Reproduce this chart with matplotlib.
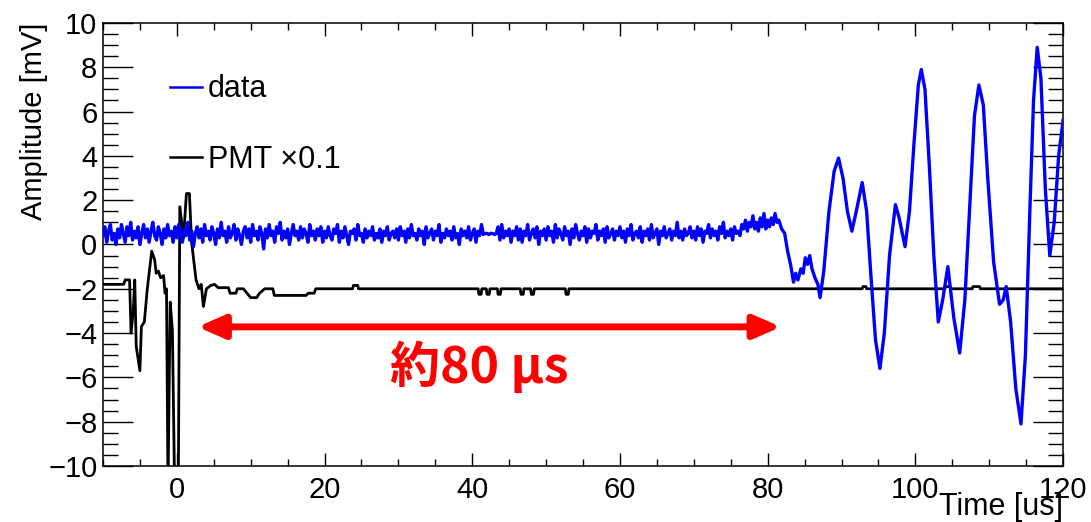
import numpy as np
import matplotlib.pyplot as plt
from matplotlib.ticker import MultipleLocator

plt.rcParams['font.family'] = ['Liberation Sans', 'DejaVu Sans']

# blue "data" trace: noisy baseline sampled every 0.25 us from -10 us
noise_t0 = -10.0
noise_dt = 0.25
noise_v = [
    # -10 .. -0.25
    0.4, 0.8, 0.1, 0.6, 0.9, 0.2, 0.5, 0.0, 0.7, 0.3, 0.9, 0.5, 0.1, 0.8, 0.4, 1.0, 0.2, 0.6, 0.3, 0.8,
    0.0, 0.5, 0.9, 0.3, 0.7, 0.1, 0.6, 1.0, 0.4, 0.2, 0.8, 0.5, 0.0, 0.7, 0.3, 0.9, 0.4, 0.6, 0.1, 0.8,
    # 0 .. 9.75
    0.3, 0.9, 0.5, 0.1, 0.7, 0.4, 1.0, 0.2, 0.6, -0.1, 0.5, 0.8, 0.3, 0.7, 0.1, 0.9, 0.4, 0.6, 0.2, 0.8,
    0.5, 0.0, 0.7, 0.3, 1.0, 0.4, 0.6, 0.1, 0.8, 0.3, 0.5, 0.9, 0.2, 0.7, 0.4, 0.0, 0.6, 0.8, 0.3, 0.7,
    # 10 .. 19.75
    0.1, 0.9, 0.4, 0.6, 0.2, 0.8, 0.5, -0.2, 0.7, 0.3, 0.9, 0.4, 0.6, 0.1, 0.8, 0.5, 1.0, 0.2, 0.6, 0.3,
    0.7, 0.0, 0.5, 0.9, 0.4, 0.6, 0.2, 0.8, 0.3, 0.7, 0.5, 0.1, 0.9, 0.4, 0.6, 0.2, 0.7, 0.4, 0.8, 0.1,
    # 20 .. 29.75
    0.6, 0.3, 0.8, 0.4, 0.2, 0.7, 0.5, 0.9, 0.1, 0.6, 0.3, 0.8, 0.4, 0.0, 0.6, 0.5, 0.7, 0.2, 0.9, 0.4,
    0.5, 0.1, 0.7, 0.3, 0.6, 0.4, 0.8, 0.2, 0.5, 0.3, 0.7, 0.1, 0.6, 0.4, 0.8, 0.2, 0.5, 0.6, 0.3, 0.7,
    # 30 .. 39.75
    0.2, 0.8, 0.4, 0.6, 0.1, 0.7, 0.3, 0.9, 0.4, 0.5, 0.2, 0.7, 0.4, 0.6, 0.0, 0.8, 0.3, 0.5, 0.7, 0.2,
    0.6, 0.4, 0.9, 0.1, 0.5, 0.3, 0.7, 0.4, 0.6, 0.2, 0.8, 0.3, 0.5, 0.0, 0.7, 0.4, 0.6, 0.3, 0.8, 0.2,
    # 40 .. 49.75
    0.5, 0.7, 0.1, 0.6, 0.4, 0.9, 0.45, 0.5, 0.5, 0.45, 0.5, 0.5, 0.45, 0.5, 0.8, 0.2, 0.9, 0.3, 0.6, 0.4,
    0.7, 0.1, 0.6, 0.4, 0.8, 0.2, 0.7, 0.1, 0.6, 0.4, 0.9, 0.2, 0.5, 0.7, 0.3, 0.8, 0.0, 0.6, 0.4, 0.7,
    # 50 .. 59.75
    0.2, 0.8, 0.4, 0.6, 0.1, 0.9, 0.3, 0.7, 0.5, 0.2, 0.8, 0.4, 0.6, 0.0, 0.7, 0.3, 0.9, 0.5, 0.2, 0.6,
    0.4, 0.8, 0.1, 0.7, 0.3, 0.6, 0.5, 0.9, 0.2, 0.6, 0.4, 0.7, 0.1, 0.8, 0.3, 0.5, 0.7, 0.2, 0.6, 0.4,
    # 60 .. 69.75
    0.8, 0.3, 0.6, 0.1, 0.7, 0.4, 0.9, 0.2, 0.5, 0.6, 0.3, 0.8, 0.1, 0.6, 0.4, 0.7, 0.2, 0.9, 0.3, 0.5,
    0.7, 0.0, 0.6, 0.4, 0.8, 0.3, 0.5, 0.7, 0.2, 0.6, 0.4, 1.0, 0.3, 0.6, 0.2, 0.7, 0.4, 0.5, 0.8, 0.3,
    # 70 .. 79.75
    0.6, 0.2, 0.8, 0.4, 0.7, 0.1, 0.6, 0.5, 0.9, 0.3, 0.7, 0.4, 0.6, 0.2, 0.8, 0.5, 1.0, 0.3, 0.6, 0.4,
    0.7, 0.2, 0.8, 0.5, 0.6, 0.4, 0.9, 0.7, 1.1, 0.6, 1.0, 0.8, 1.3, 0.7, 1.0, 0.6, 1.2, 0.8, 1.4, 0.7,
    # 80 .. 81.25
    1.1, 0.8, 1.2, 0.9, 1.4, 1.0,
]

# blue trace after the wave arrives
wave_t = [81.5, 81.9, 82.3, 82.7, 83.1, 83.5, 83.8, 84.1, 84.5, 84.8, 85.1, 85.4, 85.7, 86.0,
          86.4, 86.8, 87.1, 87.6, 88.3, 89.0, 89.6,
          90.2, 90.8, 91.4, 92.0, 92.8, 93.4, 94.0, 94.6, 95.2, 95.8, 96.5, 97.3, 97.8, 98.6,
          99.2, 99.8, 100.4, 100.8, 101.3, 101.9, 102.5, 103.1, 103.7, 104.4, 105.2, 106.0,
          106.7, 107.4, 108.0, 108.6, 109.2, 109.8, 110.6, 111.4, 111.9, 112.3, 112.9, 113.6,
          114.3, 114.9, 115.5, 116.0, 116.5, 117.0, 117.6, 118.2, 118.8, 119.4, 120.0]
wave_v = [1.1, 0.7, 0.5, -0.3, -0.9, -1.7, -1.3, -1.6, -1.1, -1.3, -0.6, -0.9, -0.5, -1.1,
          -1.5, -1.8, -2.4, -1.2, 1.5, 3.3, 3.9,
          3.0, 1.5, 0.6, 1.5, 2.8, 1.5, -1.5, -4.3, -5.6, -4.0, -0.5, 1.8, 1.2, -0.1,
          1.5, 4.5, 7.2, 7.9, 7.0, 3.5, -0.5, -3.5, -2.5, -1.0, -3.3, -4.9,
          -2.5, 2.0, 5.8, 7.2, 6.3, 3.0, -0.8, -2.7, -2.5, -1.9, -3.5, -6.5,
          -8.1, -5.0, 1.5, 6.5, 8.9, 7.5, 2.5, -0.5, 1.0, 4.0, 5.6]

# black PMT trace (scaled x0.1)
pmt_t = [-10, -7.2, -7.0, -6.4, -6.2, -5.9, -5.7, -5.5, -5.0, -4.8, -4.4, -4.0, -3.4, -3.0,
         -2.8, -2.5, -2.2, -1.8, -1.6, -1.4, -1.2, -0.9, -0.6, -0.3, 0.2, 0.4, 0.9, 1.3, 1.7,
         2.0, 2.6, 3.0, 3.3, 3.6, 4.0, 4.6, 5.1, 5.6, 7.0, 7.2, 8.0, 8.2, 9.0, 9.5, 10.0,
         10.8, 11.2, 11.9, 13.0, 13.2, 17.5, 17.8, 18.6, 18.8,
         23.8, 23.9, 24.5, 24.6, 40.8, 40.9, 41.2, 41.3, 41.9, 42.0, 42.3, 42.4, 43.4, 43.5,
         43.8, 43.9, 46.5, 46.6, 46.9, 47.0, 47.9, 48.0, 48.3, 48.4, 52.6, 52.7, 53.0, 53.1,
         92.8, 92.9, 93.3, 93.4, 104.0, 104.1, 104.7, 104.8, 107.7, 107.8, 108.7, 108.8, 120]
pmt_v = [-1.8, -1.8, -1.6, -1.6, -4.0, -3.0, -1.6, -4.6, -5.7, -3.7, -3.5, -2.0, -0.3, -0.7,
         -1.3, -1.2, -1.5, -1.4, -2.2, -2.0, -11, -2.6, -3.9, -11, -11, 1.7, 0.3, 2.3, 2.3,
         0.1, -1.6, -2.0, -1.8, -2.8, -2.0, -1.85, -1.8, -1.95, -1.95, -2.2, -2.2, -2.0, -2.0, -2.2, -2.4,
         -2.4, -2.2, -2.0, -2.0, -2.3, -2.3, -2.2, -2.2, -2.0,
         -2.0, -1.85, -1.85, -2.0, -2.0, -2.25, -2.25, -2.0, -2.0, -2.25, -2.25, -2.0, -2.0, -2.25,
         -2.25, -2.0, -2.0, -2.25, -2.25, -2.0, -2.0, -2.25, -2.25, -2.0, -2.0, -2.25, -2.25, -2.0,
         -2.0, -1.9, -1.9, -2.0, -2.0, -1.9, -1.9, -2.0, -2.0, -1.9, -1.9, -2.0, -2.0]

data_t = list(noise_t0 + noise_dt * np.arange(len(noise_v))) + wave_t
data_v = noise_v + wave_v

fig = plt.figure(figsize=(10.91, 5.22), dpi=100)
ax = fig.add_axes([0.0944, 0.1073, 0.880, 0.8487])

ax.plot(pmt_t, pmt_v, color='black', lw=2.0, label='PMT \u00d70.1', zorder=2)
ax.plot(data_t, data_v, color='blue', lw=2.4, label='data', zorder=3,
        solid_joinstyle='round')

ax.set_xlim(-10, 120)
ax.set_ylim(-10, 10)
ax.xaxis.set_major_locator(MultipleLocator(20))
ax.xaxis.set_minor_locator(MultipleLocator(5))
ax.yaxis.set_major_locator(MultipleLocator(2))
ax.yaxis.set_minor_locator(MultipleLocator(0.5))
ax.tick_params(axis='both', which='both', direction='in', width=1.0, labelsize=21)
ax.tick_params(axis='x', which='major', length=9.4, top=True, pad=7)
ax.tick_params(axis='x', which='minor', length=5, top=True)
ax.tick_params(axis='y', which='major', length=21.6, right=True, pad=4)
ax.tick_params(axis='y', which='minor', length=10.8, right=True)
for s in ax.spines.values():
    s.set_linewidth(1.1)

ax.text(-0.072, 1.0, 'Amplitude [mV]', rotation=90, ha='center', va='top',
        fontsize=21, transform=ax.transAxes)
ax.text(1.0, -0.11, 'Time [us]', ha='right', va='baseline', fontsize=22,
        transform=ax.transAxes)

h, l = ax.get_legend_handles_labels()
leg = ax.legend(h[::-1], l[::-1], loc='upper left', bbox_to_anchor=(0.0698, 0.884),
                frameon=False, fontsize=22, handlelength=1.05, handletextpad=0.2,
                labelspacing=1.32, borderpad=0, borderaxespad=0)
for ln in leg.get_lines():
    ln.set_linewidth(1.8)

ax.annotate('', xy=(81.8, -3.72), xytext=(2.8, -3.72),
            arrowprops=dict(arrowstyle='<|-|>,head_length=1.6,head_width=0.7',
                            color='red', lw=5, shrinkA=0, shrinkB=0,
                            mutation_scale=10))
ax.text(41, -6.25, '約80 μs', color='red', fontsize=36, fontweight='bold',
        ha='center', va='baseline', family=['Noto Sans CJK JP', 'DejaVu Sans'])

fig.savefig('out.png', dpi=100)
